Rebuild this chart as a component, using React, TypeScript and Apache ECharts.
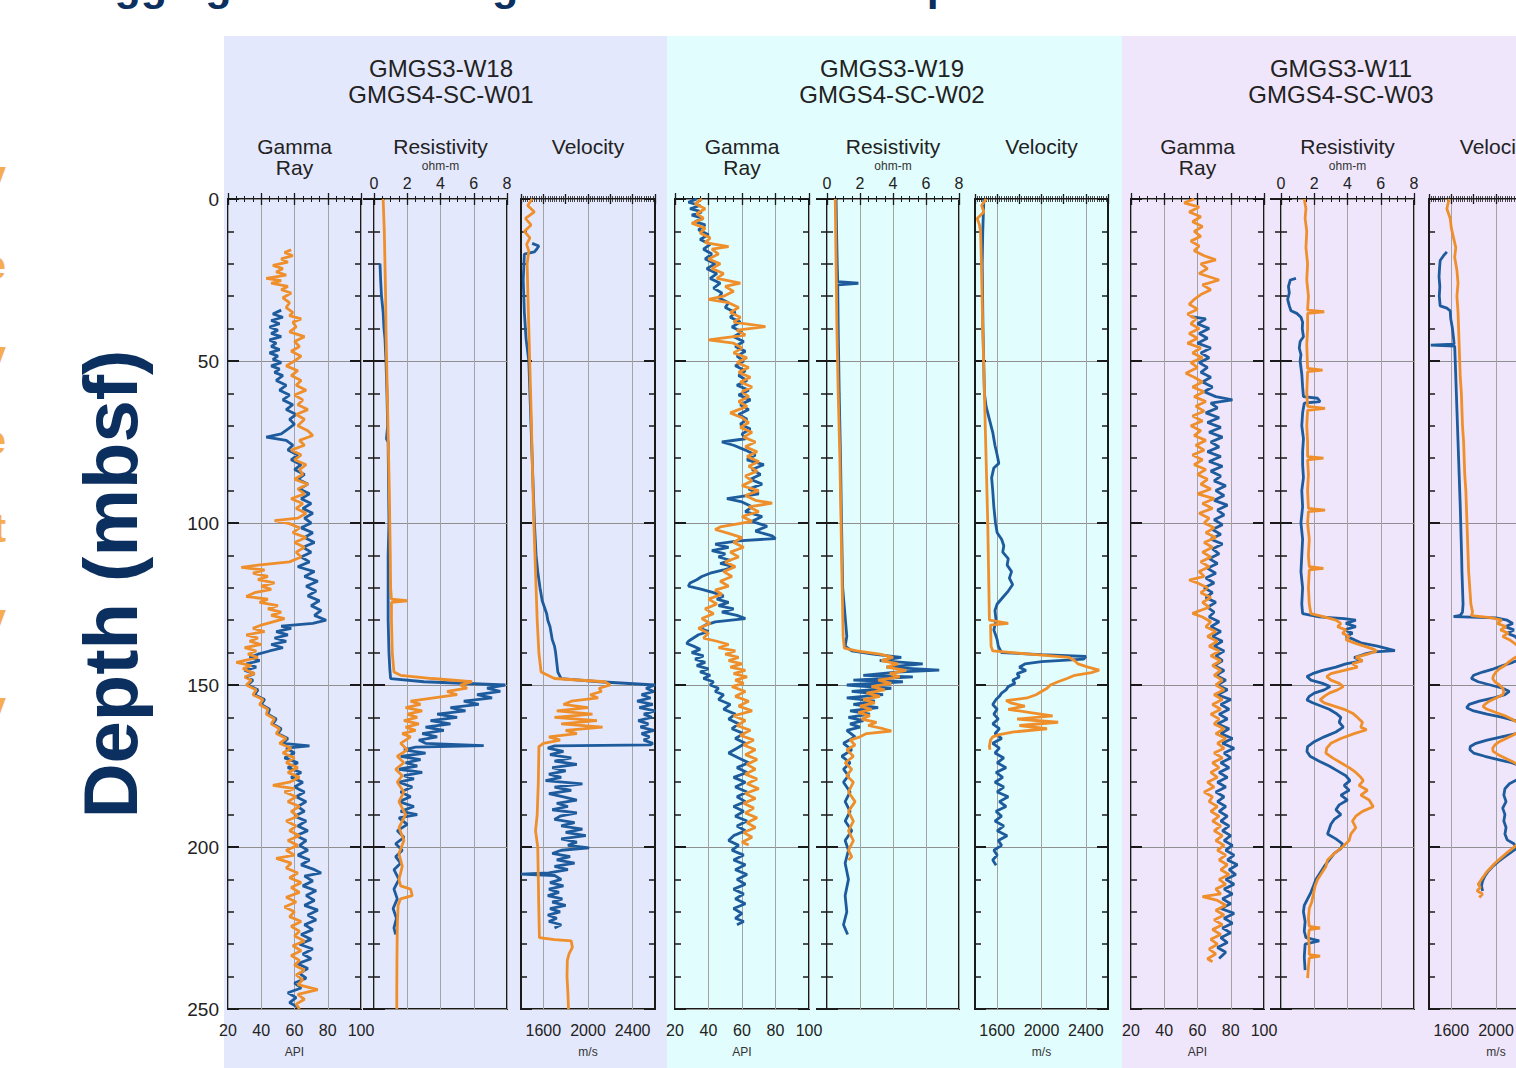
import React, { useEffect, useRef } from 'react';
import * as echarts from 'echarts';

// ---------------- DATA ----------------
const wellNamesTop = ['GMGS3-W18', 'GMGS3-W19', 'GMGS3-W11'];
const wellNamesBottom = ['GMGS4-SC-W01', 'GMGS4-SC-W02', 'GMGS4-SC-W03'];
const velTickLabels = [1600, 2000, 2400];

// each pair: [depth (mbsf), value]
// ---- W18 / SC-W01 ----
const w18GrBlue = [[34.3,52],[35.5,47],[36.5,53],[37.5,46],[38.5,51],[39.5,45],[40.5,50],[41.5,46],[42.5,52],[43.5,45],[44.5,49],[45.5,46],[46.5,51],[47.5,45],[48.5,50],[49.5,47],[50.5,52],[51.5,46],[52.5,51],[53.5,48],[54.5,53],[56,49],[57.5,55],[59,51],[60.5,57],[62,53],[63.5,59],[65,55],[66.5,61],[68,57],[69.5,60],[71,56],[72.5,52],[73.5,43],[74.5,55],[76,59],[77.5,56],[79,62],[80.5,58],[82,64],[83.5,60],[85,66],[86.5,62],[88,68],[89.5,63],[91,69],[92.5,64],[94,70],[95.5,65],[97,71],[98.5,66],[100,70],[101.5,64],[103,71],[104.5,66],[106,72],[107.5,65],[109,70],[110.5,64],[112,69],[113.5,62],[115,72],[116.5,66],[118,74],[119.5,67],[121,73],[122.5,68],[124,75],[125.5,70],[127,76],[128.5,72],[130,79],[131,71],[131.8,52],[132.5,58],[133.5,49],[134.5,56],[135.5,48],[136.5,55],[137.5,46],[138.5,53],[139.5,45],[140.5,38],[141.5,33],[142.5,39],[143.5,31],[144.5,37],[145.5,30],[146.5,36],[147.5,31],[148.5,35],[150,32],[151.5,38],[153,36],[154.5,42],[156,40],[157.5,45],[159,44],[160.5,49],[162,47],[163.5,52],[165,50],[166.5,56],[168,53],[168.8,69],[169.5,55],[171,60],[172.5,54],[174,62],[175.5,56],[177,64],[178.5,58],[180,65],[181.5,60],[183,66],[184.5,61],[186,67],[187.5,62],[189,66],[190.5,60],[192,67],[193.5,62],[195,68],[196.5,61],[198,67],[199.5,63],[201,68],[202.5,62],[204,69],[205.5,64],[207,72],[208,76],[209,66],[210.5,71],[212,65],[213.5,73],[215,67],[216.5,72],[218,66],[219.5,74],[221,68],[222.5,73],[224,66],[225.5,71],[227,64],[228.5,70],[230,63],[231.5,71],[233,65],[234.5,70],[236,62],[237.5,68],[239,63],[240.5,67],[242,60],[243.5,64],[245,56],[246.5,61],[248,57],[249.5,62]];
const w18GrOrange = [[15.7,58],[16.5,54],[17.5,59],[18.5,52],[19.5,56],[20.5,47],[21.5,53],[22.5,49],[23.5,55],[24.5,43],[25.2,52],[26,46],[27,56],[28,52],[29,58],[30.5,53],[32,57],[33.5,55],[35,59],[36,57],[37,64],[38,59],[39.5,61],[41,57],[42.5,66],[44,60],[45.5,63],[47,58],[48.5,64],[50,60],[51.5,55],[53,62],[54.5,58],[56,64],[57.5,61],[59,67],[60.5,60],[62,65],[63.5,62],[65,68],[66.5,61],[68,66],[70,62],[71.5,68],[73,71],[74.5,63],[76,66],[77.5,58],[79,64],[80.5,60],[82,67],[83.5,63],[85,65],[86.5,60],[88,68],[89.5,62],[91,66],[92.5,58],[94,65],[95.5,61],[97,67],[98.5,62],[99.3,48],[100.2,57],[101.5,63],[103,59],[104.5,67],[106,60],[107.5,66],[109,61],[110.5,64],[112,57],[113,38],[113.7,28],[114.5,42],[115.5,35],[116.5,44],[117.5,38],[118.5,48],[119.5,40],[120.5,46],[121.5,36],[122.7,31],[123.5,44],[124.5,39],[125.5,50],[126.5,44],[127.5,52],[128.5,46],[129.5,54],[130.5,47],[131.5,40],[132.5,35],[133.5,42],[134.5,31],[135.5,38],[136.5,33],[137.5,40],[138.5,30],[139.5,37],[140.5,32],[141.5,38],[143,25],[144,34],[145,29],[146.5,36],[147.5,30],[148.5,34],[150,31],[151.5,37],[153,35],[154.5,41],[156,39],[157.5,44],[159,43],[160.5,48],[162,46],[163.5,51],[165,49],[166.5,55],[168,51],[169.5,58],[171,53],[172.5,60],[174,55],[175.5,62],[177,56],[178.5,63],[180,57],[181,47],[182,60],[183,54],[184.5,61],[186,56],[187.5,63],[189,58],[190.5,62],[192,55],[193.5,61],[195,57],[196.5,63],[198,56],[199.5,62],[201,55],[202.5,60],[203.5,49],[205,58],[206.5,55],[208,62],[209.5,57],[211,64],[212.5,58],[214,63],[215.5,55],[217,61],[218.5,54],[220,60],[221.5,57],[223,64],[224.5,58],[226,63],[227.5,60],[229,66],[230.5,59],[232,64],[233.5,58],[235,63],[236.5,60],[238,66],[239.5,61],[241,65],[242.5,62],[244,74],[245.5,62],[247,66],[248.5,61],[250,63]];
const w18ResBlue = [[19.9,0.36],[25,0.4],[30,0.45],[35,0.55],[40,0.6],[43,0.66],[50,0.72],[60,0.78],[70,0.82],[74,0.75],[75,0.85],[80,0.86],[90,0.88],[100,0.9],[110,0.85],[120,0.85],[130,0.85],[140,0.9],[145,0.95],[148,1.0],[149,3.0],[150,7.9],[151,6.8],[152,7.6],[153,6.2],[154,7.1],[155,5.4],[156,6.3],[157,4.6],[158,5.5],[159,3.8],[160,5.0],[161,3.4],[162,4.6],[163,3.1],[164,4.2],[165,2.9],[166,3.8],[167,2.7],[168,3.1],[168.7,6.6],[169.2,2.5],[170,1.8],[171,3.1],[172,1.6],[173,2.8],[174,1.9],[175,2.6],[176,1.5],[177,2.9],[178,1.8],[179,2.4],[180,1.5],[181.5,2.3],[183,1.6],[184.5,2.2],[186,1.5],[187.5,2.4],[189,1.6],[190,2.6],[191,1.5],[193,2.0],[195,1.4],[197,1.8],[199,1.3],[201,1.7],[203,1.3],[205,1.6],[207,1.2],[210,1.5],[213,1.2],[216,1.4],[219,1.15],[222,1.35],[225,1.2],[227,1.3]];
const w18ResOrange = [[0,0.55],[10,0.62],[20,0.66],[30,0.7],[40,0.72],[50,0.76],[60,0.8],[70,0.84],[80,0.88],[90,0.92],[100,0.95],[110,0.98],[120,1.0],[123.5,1.05],[124,2.0],[124.5,1.05],[130,1.05],[140,1.1],[146,1.2],[147,1.6],[148,3.5],[149,5.9],[150,5.2],[151,5.6],[152,4.4],[153,5.0],[154,3.6],[155,2.2],[156,2.8],[157,1.9],[158,2.9],[159,2.0],[160,2.6],[161,1.8],[162,2.7],[163,1.9],[164,2.5],[165,1.7],[166,2.2],[168,1.6],[170,2.0],[172,1.4],[174,1.8],[176,1.3],[178,1.7],[180,1.4],[183,1.8],[186,1.5],[190,1.9],[194,1.5],[198,1.8],[202,1.5],[206,1.7],[210,1.5],[212,1.6],[213,2.2],[215,2.3],[216,1.6],[218,1.45],[225,1.4],[235,1.38],[245,1.37],[250,1.37]];
const w18VelBlue = [[13.7,1500],[14.5,1560],[15.5,1540],[16.3,1520],[17,1430],[25,1420],[35,1430],[43,1445],[50,1470],[60,1480],[70,1490],[80,1500],[90,1510],[100,1520],[110,1535],[115,1550],[120,1570],[124,1590],[126,1610],[128,1630],[130,1640],[132,1660],[134,1670],[136,1680],[138,1700],[140,1710],[143,1720],[146,1730],[148,1760],[149,2100],[150,2600],[151,2520],[152,2590],[153,2480],[154,2560],[155,2440],[156,2580],[157,2460],[158,2600],[159,2500],[160,2570],[161,2450],[162,2540],[163,2470],[164,2590],[165,2480],[166,2550],[167,2500],[168,2580],[168.5,2560],[168.8,1700],[169.5,1640],[170.5,1780],[171.5,1660],[172.5,1850],[173.5,1700],[174.5,1900],[175.5,1680],[176.5,1800],[177.5,1650],[178.5,1760],[179.5,1620],[180.5,1950],[181.5,1700],[182.5,1850],[183.5,1650],[184.5,1780],[185.5,1900],[186.5,1720],[187.5,1820],[188.5,1680],[189.5,1900],[190.5,1750],[191.5,1700],[192.5,1880],[193.5,1760],[194.5,1950],[195.5,1800],[196.5,1980],[197.5,1760],[198.5,1900],[199.5,1820],[200.3,2010],[201,1760],[202,1680],[203,1840],[204,1720],[205,1880],[206,1700],[207,1820],[208,1650],[208.4,1400],[208.8,1700],[210,1760],[211,1660],[212,1780],[213,1650],[214,1740],[215,1640],[216,1770],[217,1680],[218,1800],[219,1660],[220,1750],[221,1640],[222,1720],[223,1650],[224,1760],[225,1700]];
const w18VelOrange = [[0,1500],[2,1460],[4,1520],[6,1440],[8,1490],[10,1430],[12,1480],[14,1450],[16,1470],[20,1455],[30,1462],[40,1470],[50,1478],[60,1486],[70,1494],[80,1500],[90,1508],[100,1515],[110,1525],[120,1535],[130,1545],[140,1560],[146,1580],[148,1700],[149,2150],[150,2200],[151,2100],[152,2120],[153,2020],[154,2090],[155,1850],[156,1780],[157,2000],[158,1720],[159,2040],[160,1700],[161,2080],[162,1760],[163,2130],[164,1800],[165,1900],[166,1650],[167,1750],[168,1600],[169,1560],[170,1560],[180,1555],[190,1545],[195,1530],[200,1550],[210,1555],[220,1560],[228,1565],[228.6,1700],[229,1850],[231,1860],[233,1830],[235,1815],[240,1812],[245,1820],[250,1825]];

// ---- W19 / SC-W02 ----
const w19GrBlue = [[0,33],[1,28],[2,35],[3,29],[4,36],[5,30],[6,37],[7,32],[8,38],[9.5,34],[11,40],[12.5,35],[14,41],[15.5,37],[17,42],[18.5,38],[20,44],[21.5,39],[23,45],[24.5,41],[26,47],[27.5,43],[29,48],[30.5,46],[32,52],[33.5,50],[35,56],[36.5,53],[38,59],[39.5,54],[41,60],[42.5,55],[44,61],[45.5,56],[47,62],[48.5,57],[50,61],[51.5,56],[53,62],[54.5,58],[56,63],[57.5,57],[59,64],[60.5,58],[62,65],[63.5,59],[65,64],[66.5,58],[68,63],[69.5,59],[71,65],[72.5,60],[74,62],[75,48],[76,55],[77.5,62],[79,68],[80.5,63],[82,73],[83.5,66],[85,71],[86.5,65],[88,72],[89.5,64],[91,70],[92.5,51],[93.5,60],[95,66],[96.5,62],[98,72],[99.5,66],[101,75],[102.5,68],[104,78],[104.8,80],[105.5,58],[106.5,44],[107.5,52],[108.5,42],[109.5,50],[110.5,46],[111.5,53],[112.5,47],[113.5,55],[114.5,49],[115.5,41],[116.5,36],[117.5,33],[118.5,29],[119.5,28],[120.5,36],[121.5,43],[122.5,49],[123.5,45],[124.5,52],[125.5,46],[126.5,55],[127.5,48],[128.5,57],[129.5,62],[130.5,44],[131.5,38],[132.5,35],[133.5,40],[134.5,34],[135.5,31],[136.5,28],[137.2,27],[138,31],[139,35],[140,30],[141,37],[142,32],[143,38],[144,33],[145,40],[146,35],[147,41],[148,37],[149,43],[150,41],[151,46],[152,44],[153,49],[154.5,46],[156,53],[157.5,49],[159,56],[160.5,52],[162,58],[163.5,54],[165,61],[166.5,56],[168,62],[169.5,57],[171,52],[172.5,58],[174,64],[175.5,57],[177,63],[178.5,55],[180,62],[181.5,56],[183,63],[184.5,57],[186,62],[187.5,55],[189,61],[190.5,56],[192,63],[193.5,57],[195,62],[196.5,55],[198,52],[199.5,58],[201,54],[202.5,61],[204,55],[205.5,62],[207,56],[208.5,63],[210,57],[211.5,62],[213,55],[214.5,61],[216,56],[217.5,62],[219,55],[220.5,60],[222,56],[223,61],[224,57]];
const w19GrOrange = [[0,36],[1.5,32],[3,38],[4.5,33],[6,37],[7.5,30],[9,38],[10.5,35],[12,41],[13.5,38],[14.7,52],[15.5,42],[17,46],[18.5,40],[20,47],[21.5,42],[23,49],[24.5,45],[26,59],[27,50],[28.5,55],[30,49],[31,40],[32,52],[33.5,58],[35,53],[36.5,59],[38,55],[39.4,74],[40.5,57],[42,62],[43.5,40],[44.5,55],[46,60],[47.5,55],[49,63],[50.5,57],[52,64],[53.5,58],[55,65],[56.5,59],[58,66],[59.5,60],[61,64],[62.5,58],[64,63],[66,53],[67.5,60],[69,64],[70.5,59],[72,66],[73.5,61],[75,68],[76.5,62],[78,69],[79.5,63],[81,70],[82.5,64],[84,69],[85.5,62],[87,66],[88.5,60],[90,70],[91.5,62],[93,68],[93.9,78],[95,64],[96.5,70],[98,60],[99.5,66],[101.2,47],[102,44],[103.2,52],[104.5,60],[106,55],[107.5,61],[109,53],[110.5,58],[112,50],[113.5,56],[115,49],[116.5,54],[118,47],[119.5,52],[120.7,44],[122,48],[123.5,40],[125,45],[126.5,38],[128,43],[129.5,36],[131,41],[132.5,34],[134,40],[135.5,37],[136.5,45],[137.5,52],[138.5,46],[139.5,56],[140.5,50],[141.5,58],[142.5,52],[143.5,60],[144.5,53],[145.5,62],[146.5,55],[147.5,63],[148.5,56],[149.5,61],[150.5,54],[152,62],[153.5,56],[155,64],[156.5,58],[158,66],[159.5,55],[161,62],[162.5,57],[164,65],[165.5,59],[167,67],[168.5,61],[170,68],[171.5,62],[173,69],[174.5,63],[176,68],[177.5,62],[179,69],[180.5,63],[182,70],[183.5,62],[185,68],[186.5,61],[188,67],[189.5,62],[191,69],[192.5,63],[194,68],[195.5,61],[197,66],[198.5,60],[199.4,64]];
const w19ResBlue = [[0,0.55],[10,0.58],[20,0.62],[25.5,0.65],[26,1.9],[26.5,0.65],[40,0.68],[60,0.74],[80,0.82],[100,0.88],[120,0.95],[135,1.2],[138,1.1],[139.5,1.5],[140.5,2.8],[141.5,4.5],[142.5,3.2],[143.5,5.8],[144.5,3.6],[145.4,6.8],[146,4.2],[147,2.2],[147.5,5.2],[148.5,1.6],[149,4.6],[150,1.2],[151,3.9],[152,1.5],[153,3.4],[154,1.2],[155,2.9],[156,1.6],[157,3.1],[158,1.4],[159,2.6],[160,1.3],[161,2.2],[162,1.4],[163,2.0],[164,1.2],[166,1.7],[168,1.0],[170,1.5],[172,0.9],[174,1.4],[176,1.0],[178,1.3],[180,1.0],[183,1.4],[186,1.1],[189,1.4],[192,1.1],[195,1.5],[198,1.1],[201,1.3],[205,1.1],[210,1.3],[215,1.1],[220,1.2],[224,1.0],[227,1.25]];
const w19ResOrange = [[0,0.5],[20,0.55],[40,0.6],[60,0.68],[80,0.78],[100,0.85],[120,0.92],[135,0.98],[138.6,1.05],[139.5,1.8],[140.5,3.2],[141.5,4.0],[142.5,3.3],[143.5,4.3],[144.5,3.6],[145.5,4.8],[146.5,3.8],[147.5,4.4],[148.5,3.1],[149.5,3.9],[150.5,2.7],[151.5,3.5],[152.5,2.4],[153.5,3.2],[154.5,2.2],[155.5,2.9],[156.5,2.0],[157.5,2.7],[158.5,1.9],[159.5,2.6],[160.5,2.1],[161.5,3.0],[162.5,2.5],[163.5,3.4],[164.2,3.9],[165,2.4],[166,2.0],[167,1.4],[168.5,1.7],[170,1.2],[172,1.6],[174,1.1],[176,1.5],[178,1.2],[180,1.6],[183,1.3],[186,1.7],[189,1.3],[192,1.6],[195,1.3],[198,1.6],[201,1.3],[203,1.5],[204,1.3]];
const w19VelBlue = [[0,1480],[10,1470],[20,1465],[40,1472],[60,1485],[64,1500],[68,1530],[72,1560],[76,1580],[79,1600],[81.6,1615],[83,1570],[86,1550],[90,1560],[95,1570],[100,1585],[103,1600],[105,1640],[107,1660],[109,1650],[111,1700],[113,1690],[115,1730],[117,1710],[119,1740],[121,1700],[123,1650],[125,1600],[127,1580],[130,1590],[133,1570],[136,1600],[138,1610],[140,1640],[140.6,2000],[141.2,2400],[142,2380],[142.8,2000],[143.5,1850],[144.5,1800],[145.5,1860],[146.5,1780],[147.5,1800],[148.5,1740],[149.5,1760],[150.5,1700],[151.5,1680],[152.5,1640],[153.5,1620],[154.5,1590],[156,1560],[157.5,1600],[159,1570],[160.5,1610],[162,1560],[163.5,1620],[165,1580],[166.5,1640],[168,1560],[169.5,1620],[171,1580],[172.5,1660],[174,1600],[175.5,1680],[177,1590],[178.5,1650],[180,1580],[181.5,1660],[183,1600],[184.5,1700],[186,1620],[187.5,1680],[189,1590],[190.5,1640],[192,1580],[193.5,1660],[195,1600],[196.5,1690],[198,1610],[199.5,1640],[201,1570],[202.5,1600],[204,1560],[205.6,1590]];
const w19VelOrange = [[0,1500],[2,1460],[4,1480],[6,1420],[8,1440],[10,1450],[20,1458],[40,1470],[60,1485],[80,1500],[100,1515],[120,1525],[130,1530],[131,1700],[131.5,1540],[138,1545],[139.5,1560],[140.5,1900],[141.5,2250],[142.5,2300],[143.5,2330],[144.5,2420],[145.4,2520],[146.2,2450],[147,2300],[148,2230],[149,2150],[150,2080],[151,2050],[152,2000],[153,1950],[154,1870],[154.8,1680],[155.5,1720],[156.5,1850],[157.5,1700],[158.5,1900],[159.5,2100],[160.5,1780],[161.5,2150],[162.5,1800],[163.5,2050],[164.5,1750],[165.3,1620],[166,1560],[167,1540],[169,1530],[170,1535]];

// ---- W11 / SC-W03 ----
const w11GrBlue = [[36.3,56],[37,65],[38.5,60],[40,67],[41.5,61],[43,66],[44.5,60],[46,68],[47.5,62],[49,67],[50.5,61],[52,66],[53.5,62],[55,68],[56.5,63],[58,69],[59.5,64],[61,71],[62,81],[63,68],[64.5,72],[66,65],[67.5,73],[69,66],[70.5,74],[72,67],[73.5,75],[75,68],[76.5,73],[78,66],[79.5,74],[81,67],[82.5,75],[84,68],[85.5,74],[87,70],[88.5,77],[90,71],[91.5,76],[93,70],[94.5,78],[96,72],[97.5,76],[99,70],[100.5,75],[102,69],[103.5,74],[105,68],[106.5,75],[108,69],[109.5,73],[111,67],[112.5,72],[114,66],[115.5,71],[117,65],[118.5,70],[120,64],[121.5,69],[123,65],[124.5,71],[126,66],[127.5,70],[129,67],[130.5,73],[132,68],[133.5,74],[135,69],[136.5,75],[138,70],[139.5,76],[141,71],[142.5,75],[144,70],[145.5,76],[147,71],[148.5,77],[150,72],[151.5,78],[153,72],[154.5,80],[156,74],[157.5,79],[159,73],[160.5,78],[162,72],[163.5,79],[165,74],[166.5,81],[168,75],[169.5,82],[171,76],[172.5,80],[174,74],[175.5,79],[177,73],[178.5,78],[180,72],[181.5,77],[183,71],[184.5,76],[186,72],[187.5,77],[189,73],[190.5,78],[192,74],[193.5,79],[195,75],[196.5,80],[198,76],[199.5,81],[201,77],[202.5,82],[204,78],[205.5,84],[207,79],[208.5,83],[210,77],[211.5,82],[213,76],[214.5,81],[216,75],[217.5,80],[219,74],[220.5,82],[222,76],[223.5,81],[225,75],[226.5,80],[228,74],[229.5,78],[231,72],[232.5,77],[234.4,73]];
const w11GrOrange = [[0,58],[1.2,52],[2.5,61],[4,55],[5.5,62],[7,57],[8.5,63],[10,58],[11.5,62],[13,56],[14.5,61],[16,58],[17.5,64],[18.8,71],[20,62],[21.5,66],[23,61],[25,73],[26.5,63],[28,68],[29.5,62],[31,58],[32.5,55],[34,60],[35.5,54],[37,59],[38.5,56],[40,61],[41.5,55],[43,60],[44.5,54],[46,62],[47.5,57],[49,63],[50.5,56],[52,60],[53.8,53],[55,58],[56.5,63],[58,57],[59.5,64],[61,58],[62.5,65],[64,59],[65.5,64],[67,57],[68.5,63],[70,56],[71.5,62],[73,58],[74.5,65],[76,59],[77.5,64],[79,57],[80.5,63],[82,58],[83.5,65],[85,60],[86.5,66],[88,62],[89.5,68],[91,60],[92.5,70],[94,63],[95.5,69],[97,61],[98.5,67],[100,64],[101.5,70],[103,65],[104.5,71],[106,64],[107.5,69],[109,63],[110.5,68],[112,62],[113.5,67],[115,61],[116.5,64],[117.6,55],[118.5,60],[120,66],[121.5,62],[123,68],[124.5,63],[126,67],[127.9,57],[129,63],[130.5,68],[132,65],[133.5,71],[135,66],[136.5,72],[138,67],[139.5,73],[141,68],[142.5,74],[144,69],[145.5,74],[147,70],[148.5,75],[150,71],[151.5,76],[153,70],[154.5,75],[156,69],[157.5,74],[159,68],[160.5,73],[162,70],[163.5,76],[165,71],[166.5,77],[168,72],[169.5,76],[171,70],[172.5,75],[174,69],[175.5,73],[177,68],[178.5,72],[180,66],[181.5,70],[183,64],[184.5,69],[186,67],[187.5,72],[189,68],[190.5,73],[192,69],[193.5,74],[195,70],[196.5,75],[198,71],[199.5,76],[201,72],[202.5,77],[204,73],[205.5,78],[207,74],[208.5,79],[210,73],[211.5,77],[213,71],[214.5,74],[215.3,63],[216.5,72],[218,77],[219.5,71],[221,76],[222.5,70],[224,75],[225.5,69],[227,74],[228.5,68],[230,72],[231.5,67],[233,71],[234.5,66],[235.4,69]];
const w11ResBlue = [[24.5,0.9],[25,0.56],[27,0.45],[29,0.5],[31,0.4],[33,0.5],[34.5,0.6],[35.3,0.95],[36.5,1.2],[38,1.3],[40,1.28],[42.5,1.35],[44,1.15],[46,1.1],[48,1.2],[50,1.15],[54,1.25],[58,1.3],[61,1.35],[61.5,2.2],[62.5,2.35],[63,1.4],[66,1.3],[70,1.25],[74,1.35],[78,1.3],[82,1.3],[86,1.35],[90,1.25],[95,1.3],[100,1.2],[105,1.3],[110,1.25],[115,1.2],[120,1.3],[125,1.25],[128,1.3],[129,2.3],[129.5,3.8],[130,4.5],[131,3.9],[132,4.5],[133,3.8],[134,4.3],[135,3.9],[136,4.4],[137,4.8],[138,5.8],[139.4,6.85],[139.8,5.6],[140.5,5.0],[141.5,4.4],[142.5,4.9],[143.5,3.9],[144.5,3.3],[145.5,2.5],[146.5,1.9],[147.4,1.56],[148.5,1.8],[149.5,2.5],[150.5,2.95],[151.5,2.6],[152.5,2.0],[153.5,1.7],[154.6,1.56],[155.5,1.9],[156.5,2.4],[157.5,2.9],[158.7,3.3],[160,3.6],[161.5,3.5],[163,3.75],[164.5,3.3],[166,2.6],[167.5,2.0],[169,1.6],[170.5,1.56],[172,1.75],[173.5,2.3],[175,2.9],[176.5,3.4],[178,3.9],[179.5,4.15],[181,3.8],[182.5,4.1],[184,3.6],[185.5,4.0],[187,3.5],[188.5,3.3],[190,3.6],[191.5,3.2],[193,3.0],[194.5,2.9],[196,2.8],[197.5,3.3],[199,3.7],[200.5,3.6],[202,3.2],[204,2.9],[206,2.6],[208,2.35],[210,2.1],[212,1.95],[214,1.8],[216,1.6],[218,1.4],[220,1.35],[223,1.45],[226,1.4],[228,1.5],[229,2.3],[230,1.45],[234,1.4],[238,1.45]];
const w11ResOrange = [[0,1.4],[3,1.5],[6,1.45],[10,1.55],[15,1.5],[20,1.6],[25,1.55],[30,1.65],[34.3,1.6],[34.8,2.6],[35.3,1.6],[40,1.6],[45,1.55],[52.3,1.6],[52.8,2.5],[53.3,1.6],[60,1.55],[64,1.6],[64.6,2.65],[65.2,1.6],[70,1.55],[75,1.6],[79.5,1.6],[80,2.55],[80.5,1.6],[85,1.65],[90,1.6],[95.5,1.65],[96,2.65],[96.5,1.65],[100,1.6],[105,1.7],[110,1.65],[113.5,1.7],[114,2.55],[114.5,1.7],[120,1.65],[125,1.7],[128,1.8],[129,2.6],[130,3.3],[131,3.6],[132,3.4],[133,3.9],[134,3.7],[135,4.1],[136,3.9],[137,4.4],[138,5.0],[139,5.6],[139.5,5.75],[140.5,5.2],[141.5,4.5],[142.5,4.9],[143.5,4.3],[144.5,4.6],[145.5,3.8],[146.5,3.0],[147.4,2.75],[148.5,3.0],[149.5,3.5],[150.5,3.75],[151.5,3.4],[152.5,2.9],[153.5,2.6],[154.6,2.35],[155.5,2.6],[156.5,3.2],[157.5,3.8],[158.7,4.3],[160,4.6],[161.5,4.9],[163,4.8],[163.8,5.15],[165,4.4],[166.5,3.6],[168,3.0],[169.5,2.75],[171,2.7],[172.5,3.1],[174,3.6],[175.5,4.1],[177,4.5],[178.5,4.8],[179.5,4.95],[181,4.7],[182.5,5.2],[184,4.8],[185.5,5.3],[187.6,5.55],[189,4.9],[190.5,4.5],[192,4.3],[194,4.5],[196,4.2],[198,4.1],[200,3.7],[202,3.2],[204,2.8],[206,2.7],[208,2.45],[210,2.2],[212,2.05],[214.5,1.95],[217,1.85],[219,1.7],[222,1.65],[224.5,1.7],[225,2.35],[225.5,1.7],[228,1.65],[231,1.7],[233.2,1.7],[233.7,2.35],[234.2,1.7],[237,1.65],[240.5,1.6]];
const w11VelBlue = [[16.3,1560],[17.5,1530],[19,1500],[21,1495],[24,1490],[27,1497],[30,1492],[33,1500],[33.7,1560],[34.5,1590],[37,1595],[40,1610],[43,1620],[44.8,1625],[45.1,1416],[45.4,1630],[50,1635],[55,1640],[60,1645],[65,1650],[70,1655],[75,1660],[80,1665],[85,1670],[90,1675],[95,1680],[100,1684],[105,1688],[110,1692],[115,1695],[120,1700],[125,1705],[127.5,1700],[128.5,1680],[128.9,1620],[129.3,2000],[130,2100],[131,2150],[132,2080],[133,2160],[134,2100],[135,2170],[136,2200],[137,2250],[138,2300],[139,2330],[140,2320],[141,2280],[142,2220],[143,2150],[144,2060],[145,1980],[146,1880],[147,1800],[148,1780],[149,1840],[150,1950],[151,2060],[152,2120],[153,2080],[154,1980],[155,1850],[156,1760],[157,1737],[158,1800],[159,1920],[160,2060],[161,2170],[162,2250],[163,2280],[164,2260],[165,2180],[166,2050],[167,1920],[168,1820],[169,1770],[170,1766],[171,1800],[172,1900],[173,2020],[174,2140],[175,2220],[177,2260],[179,2200],[180.5,2120],[182,2080],[184,2070],[186,2090],[188,2060],[190,2080],[192,2070],[194,2090],[196,2080],[197.8,2100],[199,2160],[200.3,2190],[201.5,2140],[203,2080],[204.5,2020],[206,1970],[207.5,1930],[209,1900],[210.5,1880],[212,1870],[213.6,1880]];
const w11VelOrange = [[0,1580],[3,1560],[6,1590],[9,1600],[12,1620],[15,1640],[18,1630],[22,1650],[26,1660],[30,1650],[35,1660],[40,1665],[45,1670],[50,1675],[55,1680],[60,1690],[65,1695],[70,1700],[75,1710],[80,1715],[85,1720],[90,1730],[95,1735],[100,1740],[105,1745],[110,1750],[115,1755],[120,1765],[125,1775],[127.5,1790],[128.6,1780],[129.2,1950],[130,2050],[131,2010],[132,2090],[133,2040],[134,2110],[135,2060],[136,2120],[137,2160],[138,2200],[139,2250],[140,2230],[141,2200],[142,2150],[143,2110],[144,2080],[145,2030],[146,2000],[147,1980],[148,1970],[149,1990],[150,2030],[151,2060],[152,2070],[153,2060],[154,2000],[155,1940],[156,1900],[156.6,1883],[157.5,1920],[158.5,2000],[159.5,2080],[160.5,2140],[161.5,2190],[162.5,2220],[163.5,2230],[164.5,2200],[165.5,2150],[166.5,2090],[167.5,2030],[168.5,1990],[169.5,1970],[170.5,1975],[171.5,2020],[172.5,2080],[173.5,2140],[174.5,2190],[176,2240],[178,2270],[180,2280],[182,2260],[184,2290],[186,2270],[188,2300],[190,2280],[192,2300],[194,2270],[196,2250],[198,2220],[199.5,2180],[200.5,2146],[202,2090],[203.5,2040],[205,1990],[206.5,1950],[208,1910],[209.5,1880],[210.5,1860],[211.5,1840],[212.5,1860],[213.5,1830],[214.5,1880],[215.6,1850]];

// ---------------- LAYOUT / STYLE ----------------
const FONT = '"Liberation Sans", Arial, sans-serif';
const BLUE = '#1d5b9d';
const ORANGE = '#ef8f2c';
const PAGE_W = 1516;
const PAGE_H = 1068;
const CHART_W = 1600;
const TRACK_TOP = 199;
const TRACK_H = 810;
const trackLefts = [228, 374, 521, 675, 827, 975, 1131, 1281, 1429];
const trackWidths = [133, 133, 134, 134, 132, 133, 133, 133, 134];
const panelRects = [
  { x: 224, w: 443, color: '#e4e8fc' },
  { x: 667, w: 455, color: '#e1fdfd' },
  { x: 1122, w: 480, color: '#f0e6fc' },
];
const panelCenters = [441, 892, 1341];

const wells = [
  { gr: [w18GrBlue, w18GrOrange], res: [w18ResBlue, w18ResOrange], vel: [w18VelBlue, w18VelOrange] },
  { gr: [w19GrBlue, w19GrOrange], res: [w19ResBlue, w19ResOrange], vel: [w19VelBlue, w19VelOrange] },
  { gr: [w11GrBlue, w11GrOrange], res: [w11ResBlue, w11ResOrange], vel: [w11VelBlue, w11VelOrange] },
];

const kinds = [
  { key: 'gr', min: 20, max: 100, interval: 20, minor: 4, split: '#a3a3a3' },
  { key: 'res', min: 0, max: 8, interval: 2, minor: 4, split: '#a3a3a3' },
  { key: 'vel', min: 1400, max: 2600, interval: 200, minor: 10, split: ['rgba(0,0,0,0)', '#a3a3a3'] },
];

function txt(x: number, y: number, text: string, size: number, fill = '#222', extra: any = {}) {
  return {
    type: 'text', x, y, z: 10, silent: true, ...extra,
    style: { text, fill, font: `${extra.bold ? 'bold ' : ''}${size}px ${FONT}`, textAlign: extra.align || 'center', textVerticalAlign: 'middle' },
  };
}

function buildOption() {
  const grid: any[] = [];
  const xAxis: any[] = [];
  const yAxis: any[] = [];
  const series: any[] = [];
  for (let i = 0; i < 9; i++) {
    const k = kinds[i % 3];
    const w = wells[Math.floor(i / 3)] as any;
    grid.push({
      left: trackLefts[i], top: TRACK_TOP, width: trackWidths[i], height: TRACK_H,
      show: true, borderColor: '#1a1a1a', borderWidth: 2, backgroundColor: 'transparent', containLabel: false,
    });
    for (const pos of ['bottom', 'top']) {
      const isBottom = pos === 'bottom';
      const showLabel = isBottom ? k.key !== 'res' : k.key === 'res';
      xAxis.push({
        type: 'value', gridIndex: i, position: pos, min: k.min, max: k.max, interval: k.interval,
        axisLine: { show: false },
        axisTick: { show: true, inside: true, length: k.key === 'vel' ? 5 : 6, lineStyle: { color: '#1a1a1a', width: 1.3 } },
        minorTick: { show: true, splitNumber: k.minor, length: 3, lineStyle: { color: '#1a1a1a', width: k.key === 'vel' ? 0.8 : 1 } },
        axisLabel: {
          show: showLabel, fontSize: 16, color: '#222', fontFamily: FONT, margin: isBottom ? 13 : 8,
          showMinLabel: true, showMaxLabel: true,
          formatter: (v: number) => (k.key === 'vel' ? (velTickLabels.includes(v) ? String(v) : '') : String(v)),
        },
        splitLine: { show: isBottom, lineStyle: { color: k.split, width: 1 } },
      });
    }
    for (const pos of ['left', 'right']) {
      const isLeft = pos === 'left';
      yAxis.push({
        type: 'value', gridIndex: i, position: pos, inverse: true, min: 0, max: 250, interval: 50,
        axisLine: { show: false },
        axisTick: { show: true, inside: true, length: 11, lineStyle: { color: '#1a1a1a', width: 2 } },
        minorTick: { show: true, splitNumber: 5, length: 6, lineStyle: { color: '#1a1a1a', width: 1.5 } },
        axisLabel: { show: i === 0 && isLeft, fontSize: 19, color: '#222', fontFamily: FONT, margin: 9 },
        splitLine: { show: isLeft, lineStyle: { color: '#8f8f8f', width: 1 } },
      });
    }
    const pair = w[k.key];
    [BLUE, ORANGE].forEach((c, j) => {
      series.push({
        type: 'line', xAxisIndex: 2 * i, yAxisIndex: 2 * i,
        data: pair[j].map((p: number[]) => [p[1], p[0]]),
        showSymbol: false, symbol: 'none', silent: true, clip: true,
        lineStyle: { color: c, width: 2.8 }, itemStyle: { color: c },
        z: 3 + j,
      });
    });
  }

  const graphic: any[] = [];
  panelRects.forEach((p) => {
    graphic.push({ type: 'rect', silent: true, z: -10, shape: { x: p.x, y: 36, width: p.w, height: 1040 }, style: { fill: p.color } });
  });
  graphic.push(txt(62, -15, 'Logging While Drilling Data from Three Repeat Sites', 43, '#0b2f5e', { bold: true, align: 'left' }));
  const frags = [175, 265, 355, 440, 528, 618, 706];
  const fragChars = ['y', 'e', 'y', 'e', 't', 'y', 'y'];
  frags.forEach((y, idx) => graphic.push(txt(6, y, fragChars[idx], 40, '#f6ad52', { bold: true, align: 'right' })));
  graphic.push(txt(110, 584, 'Depth (mbsf)', 76, '#0b2f5e', { bold: true, rotation: Math.PI / 2 }));
  for (let p = 0; p < 3; p++) {
    const cx = panelCenters[p];
    graphic.push(txt(cx, 68, wellNamesTop[p], 24));
    graphic.push(txt(cx, 94, wellNamesBottom[p], 24));
    const gi = p * 3;
    const grC = trackLefts[gi] + trackWidths[gi] / 2;
    const resC = trackLefts[gi + 1] + trackWidths[gi + 1] / 2;
    const velC = trackLefts[gi + 2] + trackWidths[gi + 2] / 2;
    graphic.push(txt(grC, 146, 'Gamma', 21));
    graphic.push(txt(grC, 167, 'Ray', 21));
    graphic.push(txt(resC, 146, 'Resistivity', 21));
    graphic.push(txt(resC, 166, 'ohm-m', 12, '#333'));
    graphic.push(txt(velC, 146, 'Velocity', 21));
    graphic.push(txt(grC, 1052, 'API', 12, '#333'));
    graphic.push(txt(velC, 1052, 'm/s', 12, '#333'));
  }

  return { animation: false, backgroundColor: '#ffffff', grid, xAxis, yAxis, series, graphic };
}

export default function App() {
  const ref = useRef<HTMLDivElement>(null);
  useEffect(() => {
    if (!ref.current) return;
    const chart = echarts.init(ref.current, undefined, { renderer: 'svg' });
    chart.setOption(buildOption() as any);
    return () => chart.dispose();
  }, []);
  return (
    <div style={{ position: 'fixed', left: 0, top: 0, width: PAGE_W, height: PAGE_H, overflow: 'hidden', background: '#fff' }}>
      <div ref={ref} style={{ width: CHART_W, height: PAGE_H }} />
    </div>
  );
}
